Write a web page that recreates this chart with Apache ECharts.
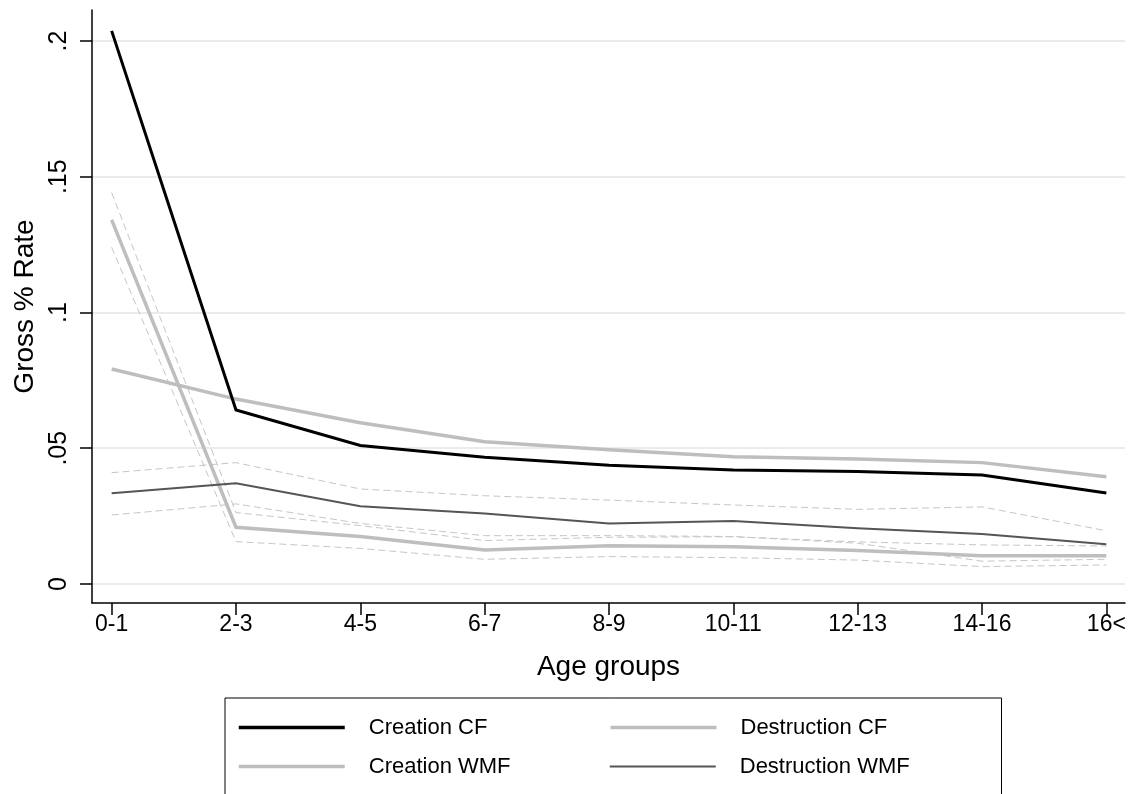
<!DOCTYPE html>
<html>
<head>
<meta charset="utf-8">
<script src="https://cdn.jsdelivr.net/npm/echarts@6/dist/echarts.min.js"></script>
<style>
  html, body { margin: 0; padding: 0; background: #fff; }
  #chart { width: 1141px; height: 794px; }
</style>
</head>
<body>
<div id="chart"></div>
<script>
// age groups on the x axis
const ageGroups = ['0-1', '2-3', '4-5', '6-7', '8-9', '10-11', '12-13', '14-16', '16<'];
const yTicks = [0, 0.05, 0.1, 0.15, 0.2];

// gross rates
const creationCF     = [0.2037, 0.0641, 0.0510, 0.0467, 0.0437, 0.0420, 0.0414, 0.0401, 0.0335];
const destructionCF  = [0.0792, 0.0681, 0.0594, 0.0524, 0.0494, 0.0469, 0.0460, 0.0447, 0.0395];
const creationWMF    = [0.1341, 0.0209, 0.0175, 0.0125, 0.0141, 0.0137, 0.0123, 0.0104, 0.0104];
const destructionWMF = [0.0334, 0.0371, 0.0286, 0.0260, 0.0223, 0.0232, 0.0205, 0.0184, 0.0146];

// confidence bands (dashed)
const creationWMFHi    = [0.1441, 0.0263, 0.0215, 0.0160, 0.0172, 0.0174, 0.0155, 0.0144, 0.0140];
const creationWMFLo    = [0.1240, 0.0156, 0.0131, 0.0091, 0.0101, 0.0097, 0.0088, 0.0064, 0.0070];
const destructionWMFHi = [0.0410, 0.0447, 0.0350, 0.0325, 0.0309, 0.0291, 0.0275, 0.0284, 0.0196];
const destructionWMFLo = [0.0254, 0.0295, 0.0223, 0.0178, 0.0178, 0.0175, 0.0150, 0.0084, 0.0091];

const FONT = '"Liberation Sans", Arial, sans-serif';

function pts(vals) {
    return vals.map((v, i) => [i, v]);
}

function solid(name, vals, color, width, z) {
    return {
        name: name, type: 'line', data: pts(vals), symbol: 'none', z: z,
        lineStyle: { color: color, width: width, cap: 'butt', join: 'miter' },
        itemStyle: { color: color }
    };
}

function dashed(name, vals) {
    return {
        name: name, type: 'line', data: pts(vals), symbol: 'none', z: 1, silent: true,
        lineStyle: { color: '#c6c6c6', width: 1, type: [7, 4] }
    };
}

function legendItem(name, color, width) {
    return { name: name, itemStyle: { opacity: 0 }, lineStyle: { color: color, width: width } };
}

const tickIdx = ageGroups.map((_, i) => i);

const option = {
    animation: false,
    backgroundColor: '#fff',
    grid: { left: 92, right: 16, top: 10, bottom: 191, containLabel: false },
    xAxis: {
        type: 'value', min: -0.158, max: 8.15,
        name: 'Age groups', nameLocation: 'middle', nameGap: 50,
        nameTextStyle: { fontFamily: FONT, fontSize: 28, color: '#000' },
        axisLine: { show: true, onZero: false, lineStyle: { color: '#000', width: 1.5 } },
        axisTick: { show: true, length: 12, customValues: tickIdx, lineStyle: { color: '#000', width: 1.5 } },
        axisLabel: {
            customValues: tickIdx, margin: 10,
            fontFamily: FONT, fontSize: 23, color: '#000',
            formatter: v => ageGroups[Math.round(v)]
        },
        splitLine: { show: false }
    },
    yAxis: {
        type: 'value', min: -0.007, max: 0.2114,
        name: 'Gross % Rate', nameLocation: 'middle', nameGap: 38,
        nameTextStyle: { fontFamily: FONT, fontSize: 28, color: '#000' },
        axisLine: { show: true, onZero: false, lineStyle: { color: '#000', width: 1.5 } },
        axisTick: { show: true, length: 12, customValues: yTicks, lineStyle: { color: '#000', width: 1.5 } },
        axisLabel: {
            customValues: yTicks, rotate: 90, margin: 20,
            fontFamily: FONT, fontSize: 25, color: '#000',
            formatter: v => v === 0 ? '0' : String(+v.toFixed(2)).replace(/^0\./, '.')
        },
        splitLine: { show: true, lineStyle: { color: '#ebebeb', width: 2 } }
    },
    legend: {
        left: 225, top: 698, width: 740,
        orient: 'horizontal',
        padding: [17, 35, 40, 12],
        borderColor: '#000', borderWidth: 1,
        itemWidth: 106, itemHeight: 14, itemGap: 14,
        itemStyle: { opacity: 0 },
        textStyle: {
            fontFamily: FONT, fontSize: 22, color: '#000',
            width: 226, lineHeight: 25, padding: [0, 0, 0, 19]
        },
        data: [
            legendItem('Creation CF', '#000000', 3.5),
            legendItem('Destruction CF', '#bebebe', 3.5),
            legendItem('Creation WMF', '#bebebe', 3.5),
            legendItem('Destruction WMF', '#555555', 2)
        ]
    },
    series: [
        dashed('ci1', creationWMFHi),
        dashed('ci2', creationWMFLo),
        dashed('ci3', destructionWMFHi),
        dashed('ci4', destructionWMFLo),
        solid('Destruction CF', destructionCF, '#bebebe', 3.5, 3),
        solid('Creation WMF', creationWMF, '#bebebe', 3.5, 3),
        solid('Destruction WMF', destructionWMF, '#555555', 2, 4),
        solid('Creation CF', creationCF, '#000000', 3, 5)
    ]
};

echarts.init(document.getElementById('chart')).setOption(option);
</script>
</body>
</html>
